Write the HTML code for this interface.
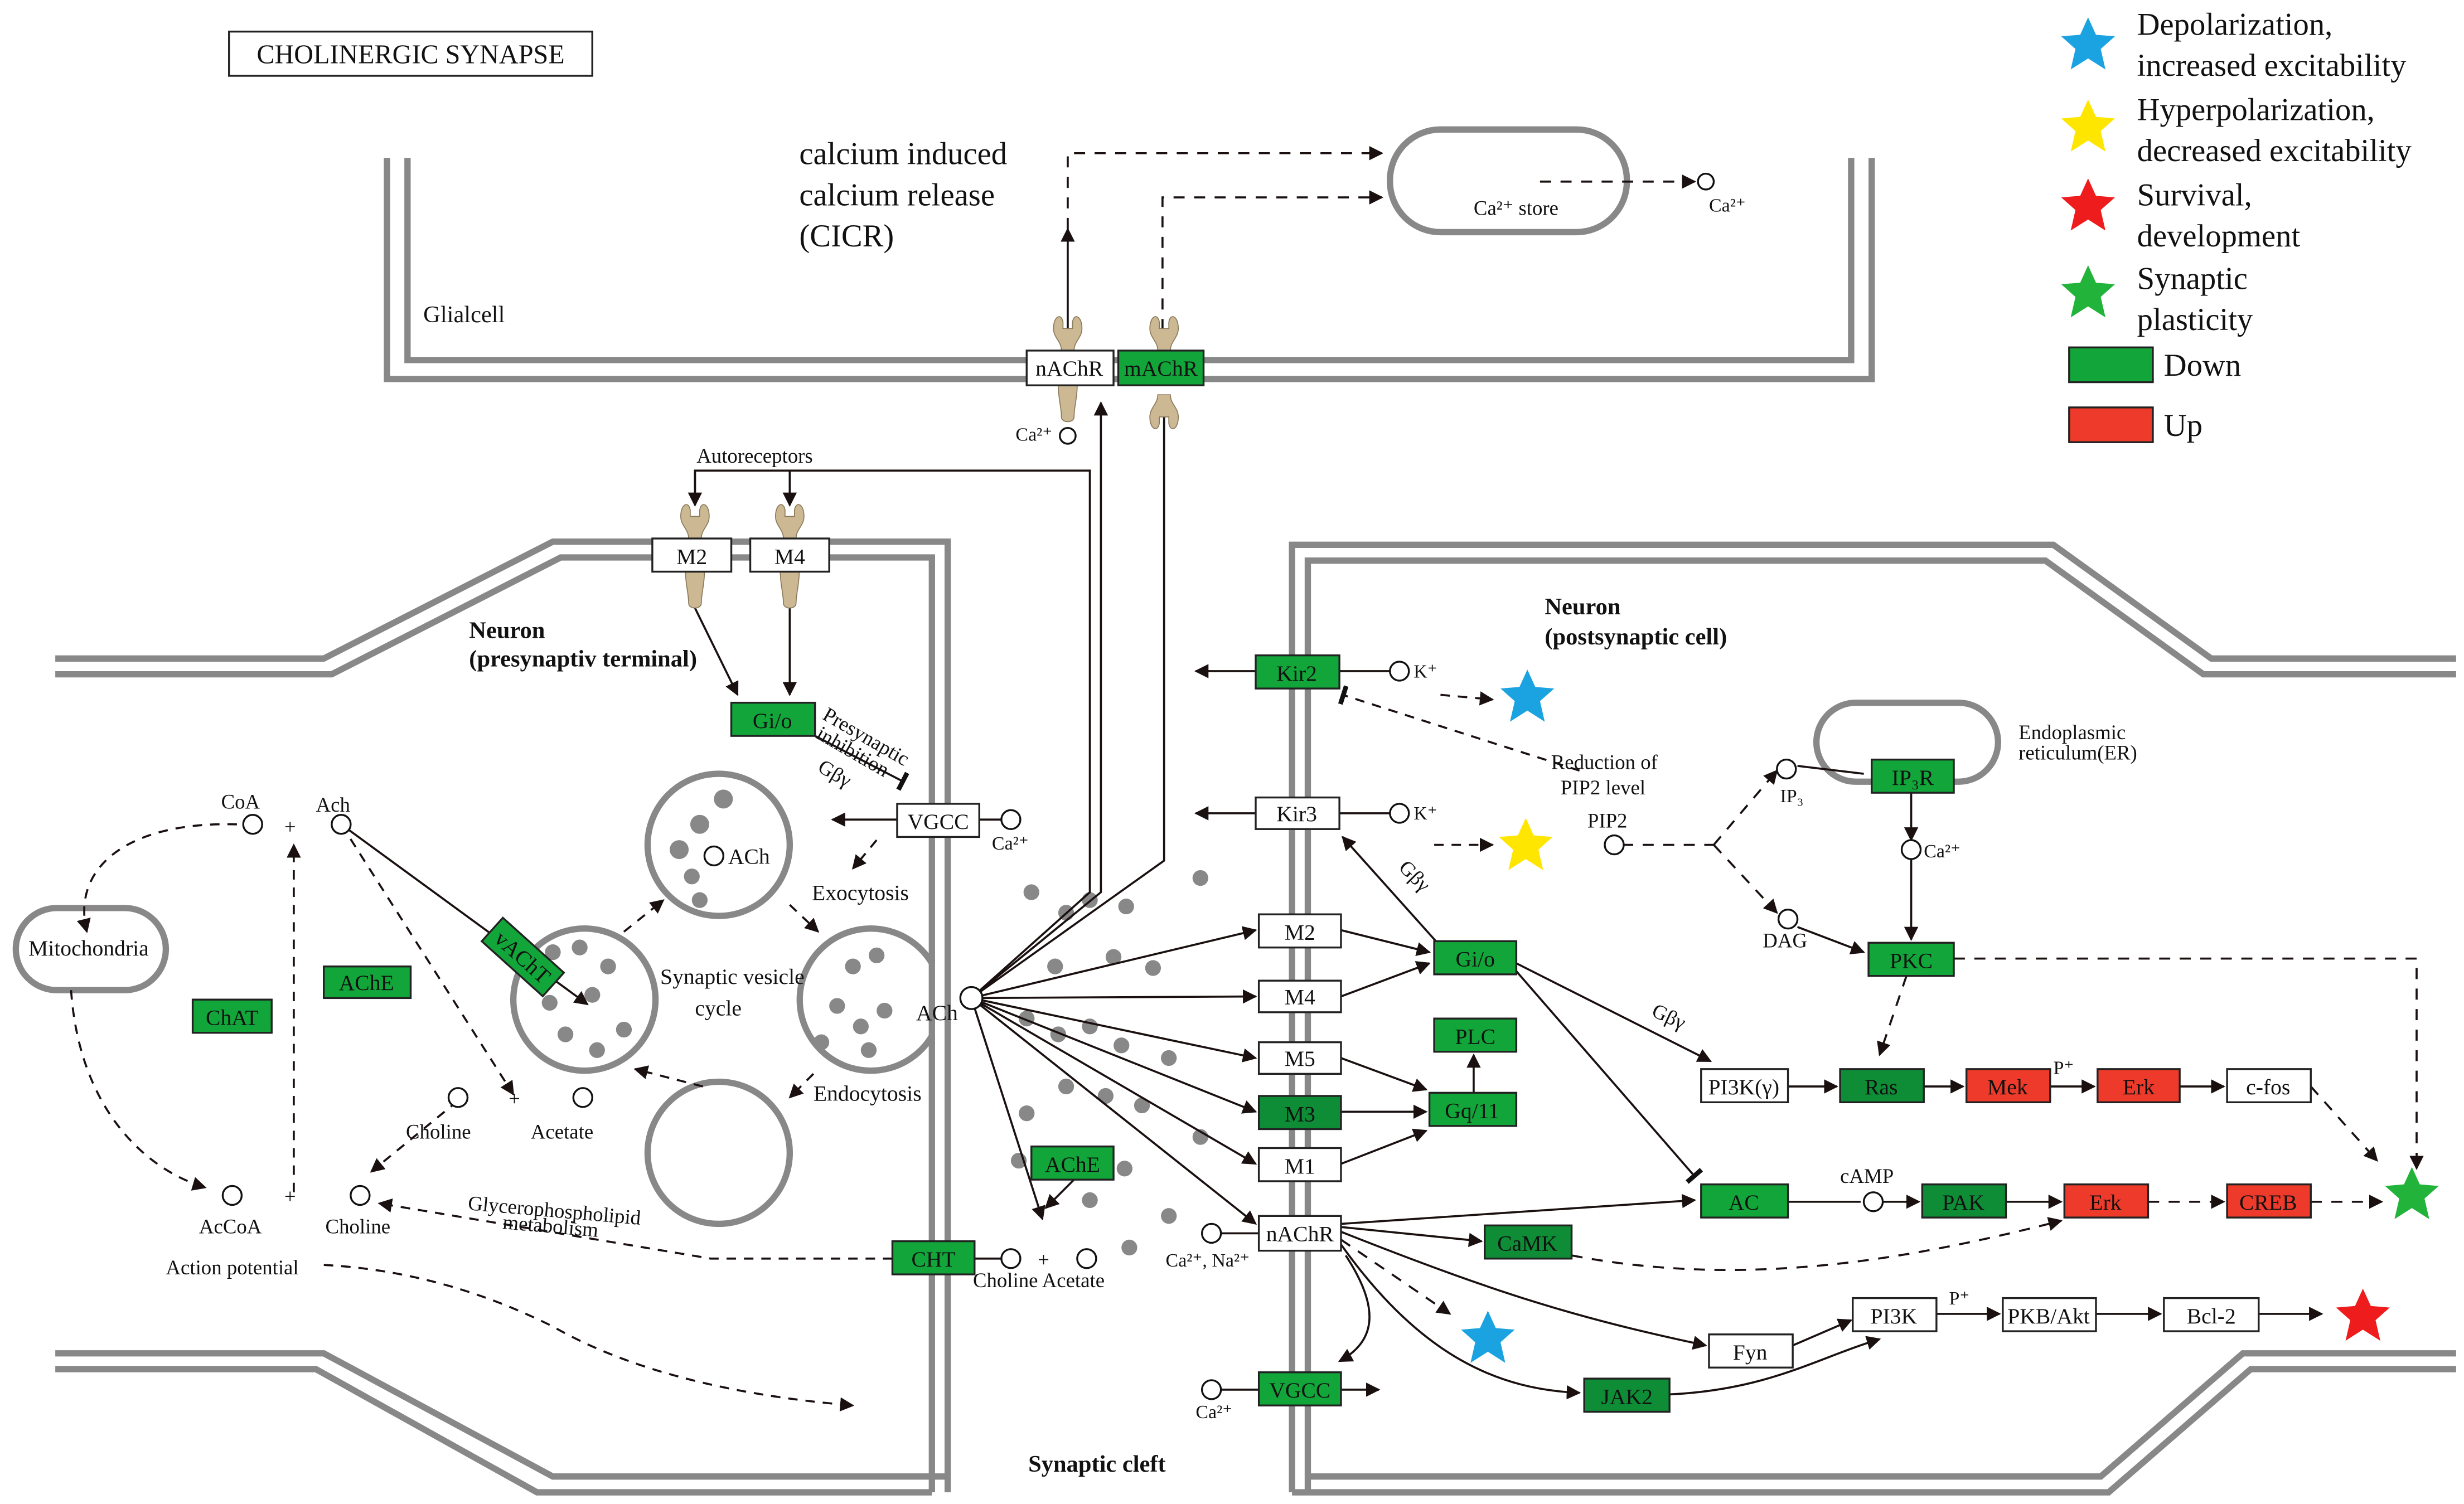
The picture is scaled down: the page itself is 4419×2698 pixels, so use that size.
<!DOCTYPE html>
<html><head><meta charset="utf-8"><style>
html,body{margin:0;padding:0;background:#fff;}
svg{display:block;}
text{font-family:"Liberation Serif",serif;fill:#111;}
</style></head><body>
<svg width="4419" height="2698" viewBox="0 0 1560 952.4" preserveAspectRatio="none" xmlns="http://www.w3.org/2000/svg">
<defs>
<marker id="a" viewBox="0 0 10 10" refX="9" refY="5" markerWidth="9" markerHeight="9" markerUnits="userSpaceOnUse" orient="auto"><path d="M0,0L10,5L0,10z" fill="#1a1010"/></marker>
<marker id="t" viewBox="0 0 4 12" refX="2" refY="6" markerWidth="4" markerHeight="12" markerUnits="userSpaceOnUse" orient="auto"><rect x="0" y="0" width="3" height="12" fill="#111"/></marker>
<g id="star"><polygon points="0,-17 5,-6 17,-5 8,3 11,16 0,9 -11,16 -8,3 -17,-5 -5,-6"/></g>
<g id="rc"><path d="M-6,0 C-6,8 -4,14 -4,20 C-4,24 4,24 4,20 C4,14 6,8 6,0z" fill="#cdb894" stroke="#8a7a5a" stroke-width="0.6"/></g>
<g id="rt"><path d="M-9,0 C-9,-8 -4,-10 -3,-4 L-3,0 L3,0 L3,-4 C4,-10 9,-8 9,0 C9,6 4,8 4,14 L-4,14 C-4,8 -9,6 -9,0z" fill="#cdb894" stroke="#8a7a5a" stroke-width="0.6"/></g>
</defs>
<g fill="none" stroke="#888" stroke-width="4">
<!-- glia -->
<path d="M245,100 V240 H1185 V100"/><path d="M258,100 V228 H1172 V100"/>
<!-- presyn -->
<path d="M35,417 H205 L350,343 H600 V945"/><path d="M35,427 H210 L355,353 H590 V945"/>
<path d="M35,857 H205 L350,935 H600"/><path d="M35,867 H200 L340,945 H590"/>
<!-- postsyn -->
<path d="M818,945 V345 H1300 L1400,417 H1555"/><path d="M828,945 V355 H1295 L1395,427 H1555"/>
<path d="M828,935 H1330 L1420,857 H1555"/><path d="M818,945 H1335 L1425,867 H1555"/>
<rect x="880" y="82" width="150" height="65" rx="32"/>
<rect x="1150" y="445" width="115" height="50" rx="25"/>
<rect x="10" y="575" width="95" height="52" rx="26"/>
<circle cx="455" cy="535" r="45"/><circle cx="370" cy="633" r="45"/><circle cx="455" cy="730" r="45"/>
<path d="M590,610 A45,45 0 1 0 590,656"/>
</g>
<!-- dots -->
<g fill="#888">
<circle cx="458" cy="506" r="6"/><circle cx="443" cy="522" r="6"/><circle cx="430" cy="538" r="6"/><circle cx="438" cy="555" r="5"/><circle cx="443" cy="570" r="5"/>
<circle cx="350" cy="603" r="5"/><circle cx="367" cy="600" r="5"/><circle cx="385" cy="612" r="5"/><circle cx="348" cy="635" r="5"/><circle cx="375" cy="630" r="5"/><circle cx="395" cy="652" r="5"/><circle cx="358" cy="655" r="5"/><circle cx="378" cy="665" r="5"/>
<circle cx="540" cy="612" r="5"/><circle cx="555" cy="605" r="5"/><circle cx="530" cy="637" r="5"/><circle cx="545" cy="650" r="5"/><circle cx="560" cy="640" r="5"/><circle cx="520" cy="660" r="5"/><circle cx="550" cy="665" r="5"/>
<circle cx="760" cy="556" r="5"/><circle cx="653" cy="565" r="5"/><circle cx="675" cy="578" r="5"/><circle cx="690" cy="570" r="5"/><circle cx="713" cy="574" r="5"/><circle cx="705" cy="606" r="5"/><circle cx="730" cy="613" r="5"/><circle cx="668" cy="612" r="5"/>
<circle cx="650" cy="645" r="5"/><circle cx="670" cy="655" r="5"/><circle cx="690" cy="650" r="5"/><circle cx="710" cy="662" r="5"/><circle cx="740" cy="670" r="5"/><circle cx="675" cy="688" r="5"/><circle cx="700" cy="694" r="5"/><circle cx="723" cy="700" r="5"/><circle cx="760" cy="720" r="5"/><circle cx="650" cy="705" r="5"/><circle cx="645" cy="735" r="5"/><circle cx="712" cy="740" r="5"/><circle cx="690" cy="760" r="5"/><circle cx="740" cy="770" r="5"/><circle cx="715" cy="790" r="5"/>
</g>
<!-- connectors -->
<g fill="none" stroke="#1a1010" stroke-width="1.3">
<path d="M676,222 V145" marker-end="url(#a)"/>
<path d="M676,145 V97 H875" stroke-dasharray="7,6" marker-end="url(#a)"/>
<path d="M736,222 V125 H875" stroke-dasharray="7,6" marker-end="url(#a)"/>
<path d="M975,115 H1073" stroke-dasharray="7,6" marker-end="url(#a)"/>
<path d="M440,312 V298 H690 V565 L615,632"/>
<path d="M440,298 V320" marker-end="url(#a)"/><path d="M500,298 V320" marker-end="url(#a)"/>
<path d="M440,385 L467,440" marker-end="url(#a)"/><path d="M500,385 V440" marker-end="url(#a)"/>
<path d="M516,466 L572,495" marker-end="url(#t)"/>
<path d="M568,519 H527" marker-end="url(#a)"/><path d="M620,519 H634"/>
<path d="M555,532 L540,550" stroke-dasharray="6,5" marker-end="url(#a)"/>
<path d="M615,632 L697,565 V255" marker-end="url(#a)"/>
<path d="M615,632 L737,545 V255" marker-end="url(#a)"/>
<path d="M615,632 L795,589" marker-end="url(#a)"/>
<path d="M615,632 L795,631" marker-end="url(#a)"/>
<path d="M615,632 L795,670" marker-end="url(#a)"/>
<path d="M615,632 L795,704" marker-end="url(#a)"/>
<path d="M615,632 L795,737" marker-end="url(#a)"/>
<path d="M615,632 L795,775" marker-end="url(#a)"/>
<path d="M615,632 L660,772" marker-end="url(#a)"/>
<path d="M680,747 L662,765" marker-end="url(#a)"/>
<path d="M216,522 L372,636" marker-end="url(#a)"/>
<path d="M216,522 L325,693" stroke-dasharray="6,5" marker-end="url(#a)"/>
<path d="M186,755 V535" stroke-dasharray="6,5" marker-end="url(#a)"/>
<path d="M150,522 C80,520 45,550 55,590" stroke-dasharray="6,5" marker-end="url(#a)"/>
<path d="M45,627 C50,700 90,740 130,752" stroke-dasharray="6,5" marker-end="url(#a)"/>
<path d="M290,697 L235,742" stroke-dasharray="6,5" marker-end="url(#a)"/>
<path d="M445,688 L402,677" stroke-dasharray="6,5" marker-end="url(#a)"/>
<path d="M395,590 L420,570" stroke-dasharray="6,5" marker-end="url(#a)"/>
<path d="M500,573 L518,590" stroke-dasharray="6,5" marker-end="url(#a)"/>
<path d="M515,680 L500,695" stroke-dasharray="6,5" marker-end="url(#a)"/>
<path d="M565,797 H450 L240,762" stroke-dasharray="6,5" marker-end="url(#a)"/>
<path d="M617,797 H634"/>
<path d="M205,801 Q280,805 350,840 Q420,880 540,890" stroke-dasharray="6,5" marker-end="url(#a)"/>
<path d="M795,425 H757" marker-end="url(#a)"/><path d="M848,425 H880"/>
<path d="M795,515 H757" marker-end="url(#a)"/><path d="M848,515 H880"/>
<path d="M912,440 L945,443" stroke-dasharray="6,5" marker-end="url(#a)"/>
<path d="M908,535 L945,535" stroke-dasharray="6,5" marker-end="url(#a)"/>
<path d="M1000,488 L850,440" stroke-dasharray="6,5" marker-end="url(#t)"/>
<path d="M910,597 L850,530" marker-end="url(#a)"/>
<path d="M849,589 L905,603" marker-end="url(#a)"/><path d="M849,631 L905,610" marker-end="url(#a)"/>
<path d="M849,670 L903,690" marker-end="url(#a)"/><path d="M849,704 L903,704" marker-end="url(#a)"/><path d="M849,737 L903,716" marker-end="url(#a)"/>
<path d="M933,692 V668" marker-end="url(#a)"/>
<path d="M960,610 L1083,672" marker-end="url(#a)"/>
<path d="M960,615 L1073,745" marker-end="url(#t)"/>
<path d="M1027,535 H1085" stroke-dasharray="7,6"/>
<path d="M1085,535 L1125,488" stroke-dasharray="7,6" marker-end="url(#a)"/>
<path d="M1085,535 L1125,578" stroke-dasharray="7,6" marker-end="url(#a)"/>
<path d="M1138,485 L1180,490"/>
<path d="M1210,502 V532" marker-end="url(#a)"/><path d="M1210,544 V595" marker-end="url(#a)"/>
<path d="M1138,587 L1180,603" marker-end="url(#a)"/>
<path d="M1207,618 L1190,668" stroke-dasharray="7,6" marker-end="url(#a)"/>
<path d="M1237,607 H1530 V740" stroke-dasharray="7,6" marker-end="url(#a)"/>
<path d="M1132,688 H1163" marker-end="url(#a)"/><path d="M1218,688 H1243" marker-end="url(#a)"/><path d="M1298,688 H1326" marker-end="url(#a)"/><path d="M1380,688 H1408" marker-end="url(#a)"/>
<path d="M1463,688 L1505,735" stroke-dasharray="7,6" marker-end="url(#a)"/>
<path d="M849,775 L1073,760" marker-end="url(#a)"/>
<path d="M1132,761 H1178"/><path d="M1192,761 H1215" marker-end="url(#a)"/>
<path d="M1270,761 H1305" marker-end="url(#a)"/>
<path d="M1360,761 H1408" stroke-dasharray="7,6" marker-end="url(#a)"/>
<path d="M1463,761 H1508" stroke-dasharray="7,6" marker-end="url(#a)"/>
<path d="M849,777 L938,786" marker-end="url(#a)"/>
<path d="M995,795 C1100,815 1200,800 1305,773" stroke-dasharray="7,6" marker-end="url(#a)"/>
<path d="M849,780 C950,820 1000,835 1080,852" marker-end="url(#a)"/>
<path d="M849,785 L918,832" stroke-dasharray="7,6" marker-end="url(#a)"/>
<path d="M849,788 C900,860 950,880 1000,882" marker-end="url(#a)"/>
<path d="M852,795 C875,830 870,850 848,862" marker-end="url(#a)"/>
<path d="M1057,883 C1120,880 1150,860 1190,848" marker-end="url(#a)"/>
<path d="M1135,852 L1172,836" marker-end="url(#a)"/>
<path d="M1226,832 H1266" marker-end="url(#a)"/><path d="M1327,832 H1368" marker-end="url(#a)"/><path d="M1430,832 H1470" marker-end="url(#a)"/>
<path d="M849,880 H873" marker-end="url(#a)"/><path d="M772,880 H797"/>
<path d="M773,781 H797"/>
</g>
<!-- small circles -->
<g fill="#fff" stroke="#111" stroke-width="1.2">
<circle cx="676" cy="276" r="5"/><circle cx="1080" cy="115" r="5"/>
<circle cx="640" cy="519" r="6"/><circle cx="452" cy="542" r="6"/><circle cx="615" cy="632" r="7"/>
<circle cx="160" cy="522" r="6"/><circle cx="216" cy="522" r="6"/><circle cx="290" cy="695" r="6"/><circle cx="369" cy="695" r="6"/>
<circle cx="147" cy="757" r="6"/><circle cx="228" cy="757" r="6"/><circle cx="640" cy="797" r="6"/><circle cx="688" cy="797" r="6"/>
<circle cx="886" cy="425" r="6"/><circle cx="886" cy="515" r="6"/><circle cx="1022" cy="535" r="6"/><circle cx="1131" cy="487" r="6"/><circle cx="1132" cy="582" r="6"/><circle cx="1210" cy="538" r="6"/><circle cx="1186" cy="761" r="6"/>
<circle cx="767" cy="781" r="6"/><circle cx="767" cy="880" r="6"/>
</g>
<!-- receptors -->
<use href="#rt" x="676" y="208"/><use href="#rc" x="676" y="244"/>
<use href="#rt" x="737" y="208"/><g transform="translate(737,264) scale(1,-1)"><use href="#rt"/></g>
<use href="#rt" x="440" y="327"/><use href="#rc" x="440" y="362"/>
<use href="#rt" x="500" y="327"/><use href="#rc" x="500" y="362"/>
<!-- boxes -->
<g stroke="#222" stroke-width="1.2">
<rect x="145" y="20" width="230" height="28" fill="#fff"/>
<rect x="650" y="222" width="55" height="22" fill="#fff"/><rect x="708" y="222" width="54" height="22" fill="#12a63a"/>
<rect x="413" y="341" width="50" height="21" fill="#fff"/><rect x="475" y="341" width="50" height="21" fill="#fff"/>
<rect x="463" y="445" width="53" height="21" fill="#12a63a"/>
<rect x="568" y="509" width="52" height="21" fill="#fff"/>
<rect x="205" y="612" width="55" height="20" fill="#12a63a"/><rect x="122" y="633" width="50" height="21" fill="#12a63a"/>
<rect x="305" y="596" width="52" height="20" fill="#12a63a" transform="rotate(42 331 606)"/>
<rect x="795" y="415" width="53" height="21" fill="#12a63a"/><rect x="795" y="505" width="53" height="20" fill="#fff"/>
<rect x="797" y="579" width="52" height="21" fill="#fff"/><rect x="797" y="621" width="52" height="20" fill="#fff"/><rect x="797" y="660" width="52" height="20" fill="#fff"/>
<rect x="797" y="694" width="52" height="21" fill="#0e8c36"/><rect x="797" y="727" width="52" height="21" fill="#fff"/>
<rect x="797" y="770" width="52" height="22" fill="#fff"/><rect x="797" y="869" width="52" height="21" fill="#12a63a"/>
<rect x="908" y="596" width="52" height="21" fill="#12a63a"/><rect x="908" y="645" width="52" height="21" fill="#12a63a"/><rect x="905" y="692" width="55" height="21" fill="#12a63a"/>
<rect x="653" y="726" width="52" height="21" fill="#12a63a"/><rect x="565" y="786" width="52" height="21" fill="#12a63a"/>
<rect x="940" y="776" width="55" height="21" fill="#0e8c36"/><rect x="1003" y="873" width="54" height="21" fill="#0e8c36"/>
<rect x="1082" y="845" width="53" height="21" fill="#fff"/>
<rect x="1077" y="677" width="55" height="21" fill="#fff"/><rect x="1165" y="677" width="53" height="21" fill="#0e8c36"/>
<rect x="1245" y="677" width="53" height="21" fill="#ee3a2a"/><rect x="1328" y="677" width="52" height="21" fill="#ee3a2a"/><rect x="1410" y="677" width="53" height="21" fill="#fff"/>
<rect x="1185" y="481" width="52" height="21" fill="#12a63a"/><rect x="1183" y="597" width="54" height="21" fill="#12a63a"/>
<rect x="1077" y="750" width="55" height="21" fill="#12a63a"/><rect x="1217" y="750" width="53" height="21" fill="#0e8c36"/>
<rect x="1307" y="750" width="53" height="21" fill="#ee3a2a"/><rect x="1410" y="750" width="53" height="21" fill="#ee3a2a"/>
<rect x="1173" y="822" width="53" height="21" fill="#fff"/><rect x="1268" y="822" width="59" height="21" fill="#fff"/><rect x="1370" y="822" width="60" height="21" fill="#fff"/>
<rect x="1310" y="220" width="53" height="22" fill="#12a63a"/><rect x="1310" y="258" width="53" height="22" fill="#ee3a2a"/>
</g>
<!-- stars -->
<use href="#star" x="1322" y="28" fill="#1aa3e0"/><use href="#star" x="1322" y="80" fill="#ffe600"/>
<use href="#star" x="1322" y="130" fill="#ee1c1c"/><use href="#star" x="1322" y="185" fill="#22b33a"/>
<use href="#star" x="967" y="441" fill="#1aa3e0"/><use href="#star" x="966" y="535" fill="#ffe600"/>
<use href="#star" x="942" y="847" fill="#1aa3e0"/><use href="#star" x="1527" y="756" fill="#22b33a"/><use href="#star" x="1496" y="833" fill="#ee1c1c"/>
<!-- labels -->
<g font-size="14" text-anchor="middle">
<text x="260" y="40" font-size="17">CHOLINERGIC SYNAPSE</text>
<text x="677" y="238">nAChR</text><text x="735" y="238">mAChR</text>
<text x="438" y="357">M2</text><text x="500" y="357">M4</text>
<text x="489" y="461">Gi/o</text><text x="594" y="525">VGCC</text>
<text x="232" y="627">AChE</text><text x="147" y="649">ChAT</text>
<text x="331" y="611" transform="rotate(42 331 606)">vAChT</text>
<text x="821" y="431">Kir2</text><text x="821" y="520">Kir3</text>
<text x="823" y="595">M2</text><text x="823" y="636">M4</text><text x="823" y="675">M5</text><text x="823" y="710">M3</text><text x="823" y="743">M1</text>
<text x="823" y="786">nAChR</text><text x="823" y="885">VGCC</text>
<text x="934" y="612">Gi/o</text><text x="934" y="661">PLC</text><text x="932" y="708">Gq/11</text>
<text x="679" y="742">AChE</text><text x="591" y="802">CHT</text>
<text x="967" y="792">CaMK</text><text x="1030" y="889">JAK2</text><text x="1108" y="861">Fyn</text>
<text x="1104" y="693">PI3K(γ)</text><text x="1191" y="693">Ras</text><text x="1271" y="693">Mek</text><text x="1354" y="693">Erk</text><text x="1436" y="693">c-fos</text>
<text x="1211" y="497">IP₃R</text><text x="1210" y="613">PKC</text>
<text x="1104" y="766">AC</text><text x="1243" y="766">PAK</text><text x="1333" y="766">Erk</text><text x="1436" y="766">CREB</text>
<text x="1199" y="838">PI3K</text><text x="1297" y="838">PKB/Akt</text><text x="1400" y="838">Bcl-2</text>
</g>
<g font-size="14">
<text x="1353" y="22" font-size="20">Depolarization,</text><text x="1353" y="48" font-size="20">increased excitability</text>
<text x="1353" y="76" font-size="20">Hyperpolarization,</text><text x="1353" y="102" font-size="20">decreased excitability</text>
<text x="1353" y="130" font-size="20">Survival,</text><text x="1353" y="156" font-size="20">development</text>
<text x="1353" y="183" font-size="20">Synaptic</text><text x="1353" y="209" font-size="20">plasticity</text>
<text x="1370" y="238" font-size="20">Down</text><text x="1370" y="276" font-size="20">Up</text>
<text x="506" y="104" font-size="20">calcium induced</text><text x="506" y="130" font-size="20">calcium release</text><text x="506" y="156" font-size="20">(CICR)</text>
<text x="933" y="136" font-size="13">Ca²⁺ store</text><text x="1082" y="134" font-size="12">Ca²⁺</text>
<text x="268" y="204" font-size="15">Glialcell</text>
<text x="643" y="279" font-size="12">Ca²⁺</text>
<text x="441" y="293" font-size="13">Autoreceptors</text>
<text x="297" y="404" font-size="15" font-weight="bold">Neuron</text><text x="297" y="422" font-size="15" font-weight="bold">(presynaptiv terminal)</text>
<text x="978" y="389" font-size="15" font-weight="bold">Neuron</text><text x="978" y="408" font-size="15" font-weight="bold">(postsynaptic cell)</text>
<text x="520" y="455" font-size="13" transform="rotate(30 520 455)">Presynaptic</text>
<text x="516" y="467" font-size="13" transform="rotate(30 516 467)">inhibition</text>
<text x="517" y="488" font-size="13" transform="rotate(30 517 488)">Gβγ</text>
<text x="628" y="538" font-size="12">Ca²⁺</text>
<text x="461" y="547" font-size="14">ACh</text>
<text x="514" y="570" font-size="14">Exocytosis</text>
<text x="418" y="623" font-size="14">Synaptic vesicle</text><text x="440" y="643" font-size="14">cycle</text>
<text x="580" y="646" font-size="14">ACh</text>
<text x="515" y="697" font-size="14">Endocytosis</text>
<text x="140" y="512" font-size="13">CoA</text><text x="200" y="514" font-size="13">Ach</text>
<text x="180" y="528" font-size="13">+</text><text x="322" y="700" font-size="13">+</text><text x="180" y="762" font-size="13">+</text><text x="657" y="802" font-size="13">+</text>
<text x="18" y="605" font-size="14">Mitochondria</text>
<text x="257" y="721" font-size="13">Choline</text><text x="336" y="721" font-size="13">Acetate</text>
<text x="126" y="781" font-size="13">AcCoA</text><text x="206" y="781" font-size="13">Choline</text>
<text x="296" y="766" font-size="13" transform="rotate(5 296 766)">Glycerophospholipid</text>
<text x="318" y="778" font-size="13" transform="rotate(5 318 778)">metabolism</text>
<text x="105" y="807" font-size="13">Action potential</text>
<text x="616" y="815" font-size="13">Choline Acetate</text>
<text x="651" y="932" font-size="15" font-weight="bold">Synaptic cleft</text>
<text x="895" y="429" font-size="12">K⁺</text><text x="895" y="519" font-size="12">K⁺</text>
<text x="982" y="487" font-size="13">Reduction of</text><text x="988" y="503" font-size="13">PIP2 level</text>
<text x="1005" y="524" font-size="13">PIP2</text>
<text x="885" y="550" font-size="13" transform="rotate(45 885 550)">Gβγ</text>
<text x="1127" y="508" font-size="12">IP₃</text><text x="1116" y="600" font-size="13">DAG</text>
<text x="1218" y="543" font-size="12">Ca²⁺</text>
<text x="1278" y="468" font-size="13">Endoplasmic</text><text x="1278" y="481" font-size="13">reticulum(ER)</text>
<text x="1045" y="643" font-size="13" transform="rotate(25 1045 643)">Gβγ</text>
<text x="1300" y="680" font-size="12">P⁺</text><text x="1234" y="826" font-size="12">P⁺</text>
<text x="1165" y="749" font-size="13">cAMP</text>
<text x="738" y="802" font-size="12">Ca²⁺, Na²⁺</text>
<text x="757" y="898" font-size="12">Ca²⁺</text>
</g>
</svg>
</body></html>
